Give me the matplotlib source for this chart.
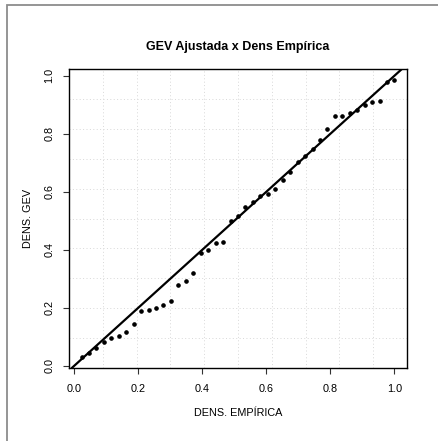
import numpy as np
import matplotlib.pyplot as plt
from matplotlib.patches import Rectangle

plt.rcParams['font.family'] = ['Liberation Sans', 'DejaVu Sans']

# empirical probabilities i/n and fitted GEV probabilities
n_obs = 43
dens_empirica = np.arange(1, n_obs + 1) / n_obs
dens_gev = [0.032, 0.044, 0.061, 0.082, 0.095, 0.104, 0.118, 0.145, 0.191, 0.193,
            0.199, 0.210, 0.225, 0.279, 0.291, 0.320, 0.389, 0.400, 0.424, 0.428,
            0.501, 0.518, 0.547, 0.564, 0.584, 0.592, 0.609, 0.641, 0.668, 0.702,
            0.722, 0.748, 0.779, 0.818, 0.860, 0.860, 0.871, 0.883, 0.898, 0.908,
            0.913, 0.980, 0.984]
tick_vals = [0.0, 0.2, 0.4, 0.6, 0.8, 1.0]

fig = plt.figure(figsize=(4.38, 4.41), dpi=100)
ax = fig.add_axes([69 / 438, 1 - 367.7 / 441, 338 / 438, 298.4 / 441])

# R-style limits: data range extended by 4% on each side
def r_lims(v):
    lo, hi = min(v), max(v)
    r = hi - lo
    return lo - 0.04 * r, hi + 0.04 * r

xlim = r_lims(dens_empirica)
ylim = r_lims(dens_gev)
ax.set_xlim(xlim)
ax.set_ylim(ylim)

# grid(): 10 equal cells over the plot region
for gx in np.linspace(xlim[0], xlim[1], 11)[1:-1]:
    ax.axvline(gx, color='#d8d8d8', linestyle=(0, (1, 2.5)), lw=0.7, zorder=0)
for gy in np.linspace(ylim[0], ylim[1], 11)[1:-1]:
    ax.axhline(gy, color='#d8d8d8', linestyle=(0, (1, 2.5)), lw=0.7, zorder=0)

ax.plot(dens_empirica, dens_gev, 'o', color='black', markersize=2.3, zorder=3)
ax.axline((0, 0), slope=1, color='black', lw=1.6, zorder=2)

ax.set_xticks(tick_vals)
ax.set_yticks(tick_vals)
ax.set_xticklabels([f'{t:.1f}' for t in tick_vals])
ax.set_yticklabels([f'{t:.1f}' for t in tick_vals], rotation=90, va='center')
ax.tick_params(axis='both', length=4.5, width=0.8, labelsize=7.8, color='#333333')
ax.tick_params(axis='x', pad=7)
ax.tick_params(axis='y', pad=6)
for s in ax.spines.values():
    s.set_linewidth(1.0)

ax.set_xlabel('DENS. EMPÍRICA', fontsize=7.8)
ax.xaxis.set_label_coords(0.5, (367.7 - 413) / 298.4)
ax.xaxis.label.set_va('center')
ax.set_ylabel('DENS. GEV', fontsize=7.8)
ax.yaxis.set_label_coords((28 - 69) / 338, 0.5)
ax.yaxis.label.set_va('center')

fig.text(238 / 438, 1 - 47 / 441, 'GEV Ajustada x Dens Empírica',
         ha='center', va='center', fontsize=9, fontweight='bold')

# outer frame of the device region
fig.patches.append(Rectangle((6.5 / 438, -0.2), 2, 1.2 - 5 / 441,
                             transform=fig.transFigure, fill=False,
                             edgecolor='#8c8c8c', lw=1.3))

fig.savefig('out.png', dpi=100)
